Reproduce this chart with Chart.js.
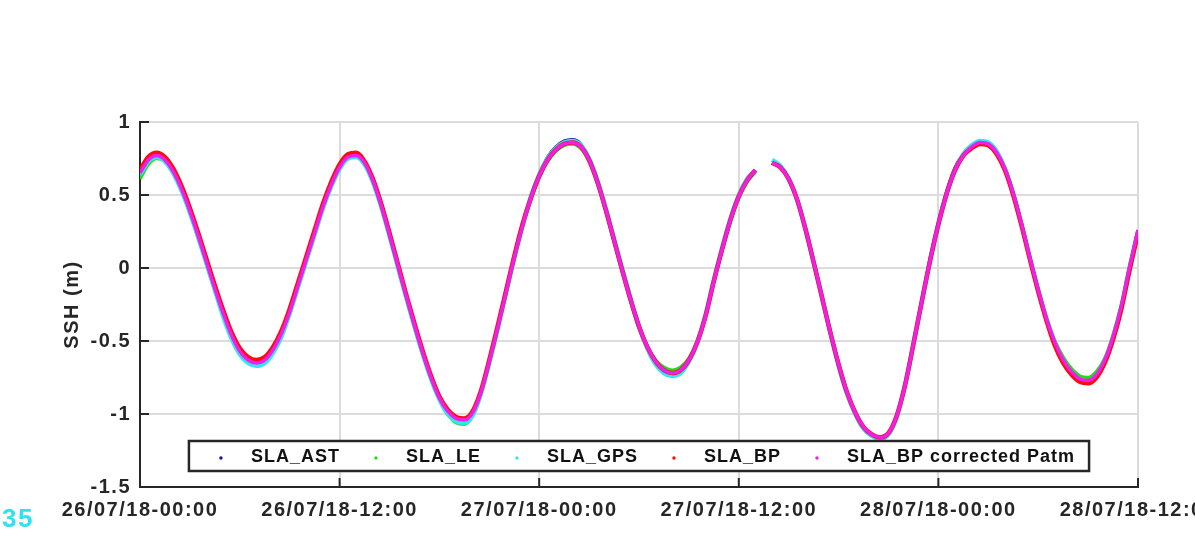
<!DOCTYPE html>
<html>
<head>
<meta charset="utf-8">
<script src="https://cdn.jsdelivr.net/npm/chart.js@4.4.1/dist/chart.umd.min.js"></script>
<style>
  html, body { margin: 0; padding: 0; background: #fff; }
  #wrap { width: 1195px; height: 540px; }
</style>
</head>
<body>
<div id="wrap"><canvas id="sshChart" width="1195" height="540"></canvas></div>
<script>
// time in hours since 26/07/18 00:00, half-hourly samples (37.5 h = data gap)
const hours = [
  0, 0.5, 1, 1.5, 2, 2.5, 3, 3.5, 4, 4.5, 5, 5.5, 6, 6.5, 7, 7.5, 8, 8.5, 9, 9.5,
  10, 10.5, 11, 11.5, 12, 12.5, 13, 13.5, 14, 14.5, 15, 15.5, 16, 16.5, 17, 17.5, 18, 18.5, 19, 19.5,
  20, 20.5, 21, 21.5, 22, 22.5, 23, 23.5, 24, 24.5, 25, 25.5, 26, 26.5, 27, 27.5, 28, 28.5, 29, 29.5,
  30, 30.5, 31, 31.5, 32, 32.5, 33, 33.5, 34, 34.5, 35, 35.5, 36, 36.5, 37, 37.5, 38, 38.5, 39, 39.5,
  40, 40.5, 41, 41.5, 42, 42.5, 43, 43.5, 44, 44.5, 45, 45.5, 46, 46.5, 47, 47.5, 48, 48.5, 49, 49.5,
  50, 50.5, 51, 51.5, 52, 52.5, 53, 53.5, 54, 54.5, 55, 55.5, 56, 56.5, 57, 57.5, 58, 58.5, 59, 59.5, 60
];

const slaAST = [
  0.66, 0.74, 0.77, 0.74, 0.66, 0.54, 0.39, 0.22, 0.04, -0.14, -0.31, -0.46, -0.58, -0.64, -0.66, -0.64, -0.57, -0.45, -0.30, -0.12,
  0.06, 0.24, 0.42, 0.57, 0.69, 0.76, 0.77, 0.72, 0.60, 0.43, 0.23, 0.02, -0.19, -0.39, -0.58, -0.75, -0.89, -0.99, -1.04, -1.05,
  -0.99, -0.85, -0.64, -0.41, -0.17, 0.07, 0.29, 0.49, 0.64, 0.76, 0.83, 0.87, 0.88, 0.85, 0.75, 0.60, 0.40, 0.19, -0.02, -0.22,
  -0.40, -0.55, -0.65, -0.71, -0.73, -0.70, -0.63, -0.51, -0.33, -0.09, 0.13, 0.33, 0.49, 0.60, 0.67, null, 0.72, 0.69, 0.61, 0.47,
  0.27, 0.04, -0.20, -0.44, -0.66, -0.85, -0.99, -1.09, -1.14, -1.16, -1.13, -1.01, -0.80, -0.52, -0.22, 0.07, 0.32, 0.53, 0.69, 0.78,
  0.84, 0.86, 0.85, 0.79, 0.68, 0.51, 0.30, 0.07, -0.15, -0.35, -0.51, -0.63, -0.71, -0.76, -0.77, -0.73, -0.63, -0.47, -0.26, 0.01, 0.26
];

const slaLE = [
  0.61, 0.71, 0.75, 0.73, 0.65, 0.53, 0.38, 0.21, 0.03, -0.15, -0.32, -0.47, -0.58, -0.64, -0.66, -0.64, -0.57, -0.46, -0.31, -0.13,
  0.05, 0.23, 0.41, 0.56, 0.68, 0.75, 0.76, 0.71, 0.59, 0.42, 0.22, 0.01, -0.20, -0.40, -0.59, -0.76, -0.90, -1.00, -1.06, -1.07,
  -1.01, -0.86, -0.65, -0.42, -0.18, 0.06, 0.28, 0.47, 0.62, 0.73, 0.80, 0.84, 0.85, 0.82, 0.73, 0.58, 0.39, 0.18, -0.03, -0.23,
  -0.41, -0.54, -0.63, -0.68, -0.70, -0.68, -0.62, -0.50, -0.33, -0.09, 0.12, 0.32, 0.48, 0.59, 0.66, null, 0.72, 0.69, 0.61, 0.47,
  0.27, 0.04, -0.20, -0.44, -0.66, -0.85, -1.00, -1.10, -1.15, -1.17, -1.14, -1.01, -0.80, -0.52, -0.23, 0.05, 0.30, 0.51, 0.67, 0.77,
  0.83, 0.86, 0.85, 0.79, 0.68, 0.51, 0.30, 0.07, -0.15, -0.34, -0.50, -0.61, -0.69, -0.74, -0.75, -0.71, -0.62, -0.46, -0.25, 0.02, 0.26
];

const slaGPS = [
  0.64, 0.73, 0.76, 0.73, 0.65, 0.53, 0.38, 0.21, 0.03, -0.15, -0.33, -0.48, -0.59, -0.65, -0.67, -0.65, -0.58, -0.47, -0.31, -0.13,
  0.05, 0.23, 0.41, 0.56, 0.68, 0.75, 0.76, 0.71, 0.59, 0.42, 0.22, 0.01, -0.20, -0.40, -0.59, -0.76, -0.90, -1.00, -1.05, -1.06,
  -1.01, -0.86, -0.65, -0.42, -0.17, 0.07, 0.29, 0.49, 0.64, 0.75, 0.82, 0.86, 0.87, 0.84, 0.75, 0.60, 0.41, 0.20, -0.01, -0.21,
  -0.40, -0.55, -0.66, -0.72, -0.74, -0.72, -0.64, -0.51, -0.32, -0.08, 0.14, 0.34, 0.50, 0.61, 0.67, null, 0.74, 0.70, 0.61, 0.47,
  0.27, 0.04, -0.20, -0.44, -0.67, -0.86, -1.00, -1.10, -1.15, -1.17, -1.14, -1.02, -0.80, -0.52, -0.23, 0.05, 0.30, 0.51, 0.67, 0.78,
  0.84, 0.87, 0.86, 0.80, 0.68, 0.51, 0.30, 0.07, -0.15, -0.35, -0.52, -0.64, -0.72, -0.77, -0.78, -0.74, -0.64, -0.48, -0.27, 0.00, 0.25
];

const slaBP = [
  0.67, 0.76, 0.79, 0.76, 0.68, 0.56, 0.41, 0.24, 0.06, -0.12, -0.29, -0.44, -0.55, -0.61, -0.63, -0.61, -0.54, -0.43, -0.28, -0.10,
  0.08, 0.26, 0.44, 0.59, 0.71, 0.78, 0.79, 0.73, 0.61, 0.44, 0.24, 0.03, -0.18, -0.38, -0.57, -0.74, -0.88, -0.97, -1.02, -1.03,
  -0.98, -0.84, -0.63, -0.40, -0.16, 0.08, 0.30, 0.48, 0.63, 0.74, 0.81, 0.85, 0.86, 0.83, 0.74, 0.59, 0.40, 0.19, -0.02, -0.22,
  -0.40, -0.54, -0.64, -0.70, -0.72, -0.70, -0.63, -0.51, -0.33, -0.09, 0.13, 0.33, 0.49, 0.60, 0.67, null, 0.72, 0.69, 0.61, 0.47,
  0.27, 0.04, -0.20, -0.44, -0.66, -0.85, -0.99, -1.09, -1.14, -1.16, -1.13, -1.01, -0.80, -0.52, -0.23, 0.05, 0.30, 0.51, 0.67, 0.77,
  0.82, 0.85, 0.84, 0.78, 0.67, 0.50, 0.29, 0.06, -0.16, -0.36, -0.53, -0.65, -0.73, -0.78, -0.79, -0.75, -0.65, -0.49, -0.28, -0.01, 0.24
];

const slaBPcorr = [
  0.65, 0.74, 0.77, 0.74, 0.66, 0.54, 0.39, 0.22, 0.04, -0.14, -0.31, -0.46, -0.57, -0.63, -0.65, -0.63, -0.56, -0.45, -0.30, -0.12,
  0.06, 0.24, 0.42, 0.57, 0.69, 0.76, 0.77, 0.72, 0.60, 0.43, 0.23, 0.02, -0.19, -0.39, -0.58, -0.75, -0.89, -0.98, -1.03, -1.04,
  -0.99, -0.85, -0.64, -0.41, -0.17, 0.07, 0.29, 0.48, 0.63, 0.74, 0.81, 0.85, 0.86, 0.83, 0.74, 0.59, 0.40, 0.19, -0.02, -0.22,
  -0.40, -0.54, -0.64, -0.70, -0.72, -0.70, -0.63, -0.51, -0.33, -0.09, 0.13, 0.33, 0.49, 0.60, 0.67, null, 0.72, 0.69, 0.61, 0.47,
  0.27, 0.04, -0.20, -0.44, -0.66, -0.85, -0.99, -1.09, -1.14, -1.16, -1.13, -1.01, -0.80, -0.52, -0.23, 0.05, 0.30, 0.51, 0.67, 0.77,
  0.83, 0.86, 0.85, 0.79, 0.68, 0.51, 0.30, 0.07, -0.15, -0.35, -0.51, -0.63, -0.71, -0.76, -0.77, -0.73, -0.63, -0.47, -0.26, 0.01, 0.26
];

const seriesNames = ['SLA_AST', 'SLA_LE', 'SLA_GPS', 'SLA_BP', 'SLA_BP corrected Patm'];
const seriesColors = ['#14149a', '#22dc22', '#34e6f2', '#ff0a0a', '#f01ee6'];
const xTickLabels = ['26/07/18-00:00', '26/07/18-12:00', '27/07/18-00:00', '27/07/18-12:00', '28/07/18-00:00', '28/07/18-12:00'];
const yTickLabels = ['-1.5', '-1', '-0.5', '0', '0.5', '1'];

const INK = '#262626';
const FONT = '"Liberation Sans", Arial, Helvetica, sans-serif';

function toPoints(vals) {
  return hours.map((h, i) => ({ x: h, y: vals[i] }));
}

const allSeries = [slaAST, slaLE, slaGPS, slaBP, slaBPcorr];
const widths = [3, 3.5, 4.5, 4.5, 3.5];

const datasets = allSeries.map((vals, i) => ({
  label: seriesNames[i],
  data: toPoints(vals),
  borderColor: seriesColors[i],
  backgroundColor: seriesColors[i],
  borderWidth: widths[i],
  pointRadius: 0,
  cubicInterpolationMode: 'monotone',
  spanGaps: false,
  order: allSeries.length - i   // last series on top
}));

// inward ticks, boxed legend and the stray caption
const matlabDecor = {
  id: 'matlabDecor',
  beforeDraw(chart) {
    chart.ctx.letterSpacing = '1.5px';
  },
  afterDraw(chart) {
    const { ctx, chartArea: a, scales: { x, y } } = chart;
    ctx.save();

    ctx.strokeStyle = INK;
    ctx.lineWidth = 2;
    ctx.beginPath();
    x.ticks.forEach(t => {
      const px = x.getPixelForValue(t.value);
      ctx.moveTo(px, a.bottom);
      ctx.lineTo(px, a.bottom - 9);
    });
    y.ticks.forEach(t => {
      const py = y.getPixelForValue(t.value);
      ctx.moveTo(a.left, py);
      ctx.lineTo(a.left + 9, py);
    });
    ctx.stroke();

    // legend
    ctx.font = 'bold 18px ' + FONT;
    ctx.letterSpacing = '1px';
    const items = chart.data.datasets.map(d => ({
      text: d.label, color: d.borderColor, w: ctx.measureText(d.label).width
    }));
    const padL = 32, dotGap = 30, itemGap = 36, padR = 14, bh = 30;
    const bw = padL + items.reduce((s, it) => s + it.w, 0) + items.length * dotGap +
      (items.length - 1) * itemGap + padR;
    const bx = (a.left + a.right) / 2 - bw / 2;
    const by = a.bottom - 16 - bh;
    ctx.fillStyle = '#fff';
    ctx.fillRect(bx, by, bw, bh);
    ctx.lineWidth = 2.5;
    ctx.strokeStyle = INK;
    ctx.strokeRect(bx, by, bw, bh);

    const cy = by + bh / 2;
    let cx = bx + padL;
    ctx.textBaseline = 'middle';
    ctx.textAlign = 'left';
    items.forEach(it => {
      ctx.fillStyle = it.color;
      ctx.beginPath();
      ctx.arc(cx, cy + 2, 1.7, 0, Math.PI * 2);
      ctx.fill();
      cx += dotGap;
      ctx.fillStyle = '#111';
      ctx.fillText(it.text, cx, cy + 1);
      cx += it.w + itemGap;
    });

    ctx.font = 'bold 26px ' + FONT;
    ctx.letterSpacing = '1.5px';
    ctx.fillStyle = '#2fe2ee';
    ctx.textAlign = 'right';
    ctx.textBaseline = 'alphabetic';
    ctx.fillText('35', 34, 527);

    ctx.restore();
  }
};

new Chart(document.getElementById('sshChart'), {
  type: 'line',
  data: { datasets: datasets },
  plugins: [matlabDecor],
  options: {
    responsive: false,
    animation: false,
    devicePixelRatio: 1,
    layout: { padding: { left: 0, right: 57, top: 122, bottom: 0 } },
    plugins: { legend: { display: false }, tooltip: { enabled: false } },
    scales: {
      x: {
        type: 'linear',
        min: 0,
        max: 60,
        grid: { color: '#dcdcdc', lineWidth: 2, drawTicks: false },
        border: { color: INK, width: 2 },
        ticks: {
          stepSize: 12,
          padding: 11,
          maxRotation: 0,
          autoSkip: false,
          color: INK,
          font: { family: FONT, size: 20, weight: 'bold' },
          callback: (v, i) => xTickLabels[i]
        },
        afterFit: s => { s.height = 53; s.paddingLeft = 0; s.paddingRight = 0; }
      },
      y: {
        min: -1.5,
        max: 1,
        grid: { color: '#dcdcdc', lineWidth: 2, drawTicks: false },
        border: { color: INK, width: 2 },
        ticks: {
          stepSize: 0.5,
          padding: 9,
          color: INK,
          font: { family: FONT, size: 20, weight: 'bold' },
          callback: (v, i) => yTickLabels[i]
        },
        title: {
          display: true,
          text: 'SSH (m)',
          color: INK,
          font: { family: FONT, size: 20, weight: 'bold' },
          padding: { top: 60, bottom: 0 }
        },
        afterFit: s => { s.width = 140; s.paddingTop = 0; s.paddingBottom = 0; }
      }
    }
  }
});
</script>
</body>
</html>
